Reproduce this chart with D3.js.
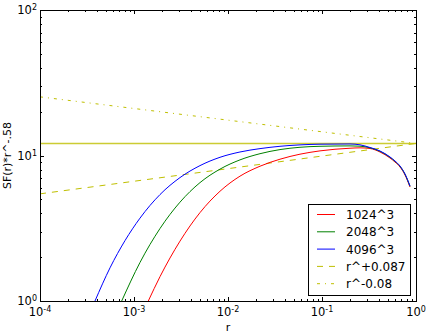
<!DOCTYPE html>
<html>
<head>
<meta charset="utf-8">
<script src="https://cdn.jsdelivr.net/npm/d3@7"></script>
<style>
  body { margin: 0; background: #fff; }
  svg { display: block; }
  text { font-family: "DejaVu Sans", sans-serif; fill: #000; }
</style>
</head>
<body>
<div id="chart"></div>
<script>
// compensated structure function curves
let r1024 = [1.419e-3, 1.891e-3, 3.086e-3, 5.036e-3, 8.221e-3, 0.01341, 0.02190, 0.03573, 0.05834, 0.09522, 0.1986, 0.2537, 0.3240, 0.4140, 0.5289, 0.5978, 0.6757, 0.7638, 0.8634];
let sf1024 = [1.00, 1.47, 2.58, 4.05, 5.68, 7.21, 8.44, 9.43, 10.21, 10.76, 11.22, 11.29, 11.17, 10.57, 9.61, 9.02, 8.34, 7.35, 6.07];

let r2048 = [7.396e-4, 1.158e-3, 1.891e-3, 3.086e-3, 5.036e-3, 8.221e-3, 0.01341, 0.02190, 0.03573, 0.05834, 0.09522, 0.1986, 0.2537, 0.3240, 0.4140, 0.5289, 0.5978, 0.6757, 0.7638, 0.8634];
let sf2048 = [1.00, 1.84, 3.15, 4.78, 6.51, 8.06, 9.33, 10.29, 10.98, 11.39, 11.57, 11.64, 11.59, 11.29, 10.69, 9.72, 9.12, 8.43, 7.43, 6.14];

let r4096 = [3.846e-4, 5.556e-4, 8.021e-4, 1.158e-3, 1.891e-3, 3.086e-3, 5.036e-3, 8.221e-3, 0.01341, 0.02190, 0.03573, 0.05834, 0.09522, 0.1986, 0.2537, 0.3240, 0.4140, 0.5289, 0.5978, 0.6757, 0.7638, 0.8634];
let sf4096 = [1.00, 1.69, 2.60, 3.71, 5.39, 7.05, 8.52, 9.72, 10.57, 11.15, 11.57, 11.83, 11.96, 12.00, 11.84, 11.35, 10.74, 9.77, 9.17, 8.47, 7.46, 6.17];

// reference lines
let hLineValue = 12.1;
let fitR = [1e-4, 1];
let fitPlus = [5.45, 12.1];   // r^+0.087
let fitMinus = [25.3, 12.1];  // r^-0.08

let xTicks = [1e-4, 1e-3, 1e-2, 1e-1, 1e0];
let yTicks = [1e0, 1e1, 1e2];

let series = [
  { name: "1024^3", color: "#ff0000", r: r1024, v: sf1024, dash: null },
  { name: "2048^3", color: "#008000", r: r2048, v: sf2048, dash: null },
  { name: "4096^3", color: "#0000ff", r: r4096, v: sf4096, dash: null },
  { name: "r^+0.087", color: "#bfbf00", r: fitR, v: fitPlus, dash: "6,6" },
  { name: "r^-0.08", color: "#bfbf00", r: fitR, v: fitMinus, dash: "3,5,1,5" }
];

let width = 427, height = 333;
let margin = { left: 40, right: 11, top: 10, bottom: 32 };
let plotW = width - margin.left - margin.right;
let plotH = height - margin.top - margin.bottom;

let svg = d3.select("#chart").append("svg")
  .attr("width", width)
  .attr("height", height);

let x = d3.scaleLog().domain([1e-4, 1]).range([0, plotW]);
let y = d3.scaleLog().domain([1, 100]).range([plotH, 0]);

let g = svg.append("g")
  .attr("transform", "translate(" + margin.left + "," + margin.top + ")");

g.append("clipPath").attr("id", "clip")
  .append("rect").attr("width", plotW).attr("height", plotH);

let plot = g.append("g").attr("clip-path", "url(#clip)");

// horizontal reference line
let hy = Math.round(y(hLineValue)) + 0.5;
plot.append("line")
  .attr("x1", 0).attr("x2", plotW)
  .attr("y1", hy).attr("y2", hy)
  .attr("stroke", "#cccc33")
  .attr("stroke-width", 1.3);

let line = d3.line()
  .x((d) => x(d[0]))
  .y((d) => y(d[1]))
  .curve(d3.curveMonotoneX);

// fits first, then the curves on top
[3, 4, 0, 1, 2].forEach(function(i) {
  let s = series[i];
  let pts = s.r.map((r, k) => [r, s.v[k]]);
  plot.append("path")
    .attr("d", line(pts))
    .attr("fill", "none")
    .attr("stroke", s.color)
    .attr("stroke-width", 1)
    .attr("stroke-dasharray", s.dash);
});

// ticks (inward, all four sides)
let minorX = [];
for (let e = -4; e < 0; e++) {
  for (let m = 2; m <= 9; m++) minorX.push(m * Math.pow(10, e));
}
let minorY = [];
for (let e = 0; e < 2; e++) {
  for (let m = 2; m <= 9; m++) minorY.push(m * Math.pow(10, e));
}

let tickG = g.append("g").attr("stroke", "#000").attr("stroke-width", 1);
function xTick(v, len) {
  let px = Math.round(x(v)) + 0.5;
  tickG.append("line").attr("x1", px).attr("x2", px).attr("y1", plotH).attr("y2", plotH - len);
  tickG.append("line").attr("x1", px).attr("x2", px).attr("y1", 0).attr("y2", len);
}
function yTick(v, len) {
  let py = Math.round(y(v)) + 0.5;
  tickG.append("line").attr("x1", 0).attr("x2", len).attr("y1", py).attr("y2", py);
  tickG.append("line").attr("x1", plotW).attr("x2", plotW - len).attr("y1", py).attr("y2", py);
}
xTicks.forEach((v) => xTick(v, 4));
minorX.forEach((v) => xTick(v, 2));
yTicks.forEach((v) => yTick(v, 4));
minorY.forEach((v) => yTick(v, 2));

// frame
g.append("rect")
  .attr("x", 0.5).attr("y", 0.5)
  .attr("width", plotW).attr("height", plotH)
  .attr("fill", "none").attr("stroke", "#000").attr("stroke-width", 1);

// tick labels
function powLabel(sel, v) {
  let e = Math.round(Math.log10(v));
  sel.append("tspan").text("10");
  sel.append("tspan").attr("dy", "-0.45em").style("font-size", "8px").text(e);
}
xTicks.forEach(function(v) {
  let t = g.append("text")
    .attr("x", x(v)).attr("y", plotH + 15)
    .attr("text-anchor", "middle")
    .style("font-size", "11.5px");
  powLabel(t, v);
});
yTicks.forEach(function(v) {
  let t = g.append("text")
    .attr("x", -3).attr("y", y(v) + 4)
    .attr("text-anchor", "end")
    .style("font-size", "11.5px");
  powLabel(t, v);
});

// axis labels
g.append("text")
  .attr("x", plotW / 2).attr("y", plotH + 30)
  .attr("text-anchor", "middle")
  .style("font-size", "11px")
  .text("r");
svg.append("text")
  .attr("transform", "translate(11," + (margin.top + plotH / 2) + ") rotate(-90)")
  .attr("text-anchor", "middle")
  .style("font-size", "11px")
  .text("SF(r)*r^-.58");

// legend
let lg = svg.append("g").attr("transform", "translate(308,204)");
lg.append("rect")
  .attr("x", 0.5).attr("y", 0.5)
  .attr("width", 102).attr("height", 91)
  .attr("fill", "#fff").attr("stroke", "#000").attr("stroke-width", 1);
series.forEach(function(s, i) {
  let ly = 10.5 + i * 17.3;
  lg.append("line")
    .attr("x1", 9).attr("x2", 27)
    .attr("y1", ly).attr("y2", ly)
    .attr("stroke", s.color)
    .attr("stroke-width", 1)
    .attr("stroke-dasharray", s.dash);
  lg.append("text")
    .attr("x", 38).attr("y", ly + 4.5)
    .style("font-size", "12px")
    .text(s.name);
});
</script>
</body>
</html>
